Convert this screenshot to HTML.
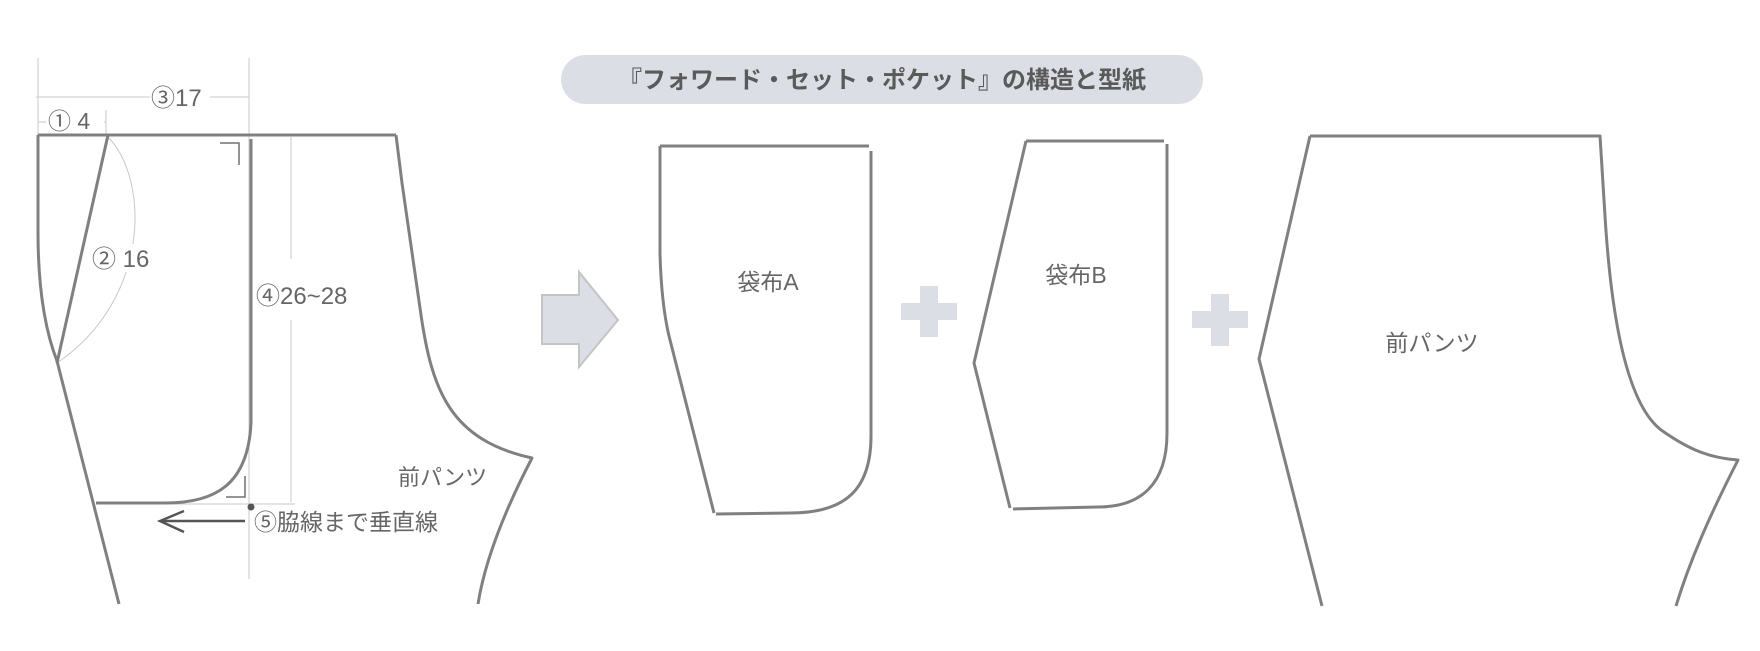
<!DOCTYPE html>
<html><head><meta charset="utf-8"><style>
html,body{margin:0;padding:0;background:#fff;}
svg{display:block;}
text{font-family:"Liberation Sans","Noto Sans CJK JP",sans-serif;fill:#666;}
</style></head><body>
<svg width="1760" height="651" viewBox="0 0 1760 651" xmlns="http://www.w3.org/2000/svg">
<g stroke="#c8c8c8" stroke-width="1" fill="none">
<line x1="38" y1="58" x2="38" y2="135"/>
<line x1="249" y1="58" x2="249" y2="579"/>
<line x1="36" y1="97" x2="249" y2="97"/>
<line x1="38" y1="122" x2="106" y2="122"/>
<line x1="106" y1="110" x2="106" y2="135"/>
<path d="M108,137 C150,180 150,300 57,363"/>
<line x1="291" y1="137" x2="291" y2="259"/>
<line x1="291" y1="320" x2="291" y2="502"/>
<line x1="96" y1="504" x2="295" y2="504"/>
</g>
<rect x="150" y="84" width="60" height="26" fill="#fff"/>
<rect x="46" y="110" width="58" height="24" fill="#fff"/>
<rect x="90" y="244" width="64" height="28" fill="#fff"/>
<text x="151" y="106" font-size="24">③17</text>
<text x="48" y="129" font-size="23">① 4</text>
<text x="92" y="267" font-size="24">② 16</text>
<g stroke="#808080" stroke-width="3" fill="none" stroke-linejoin="round">
<line x1="38" y1="135" x2="396" y2="135"/>
<path d="M38,135 L38,232 C38,290 45,330 57,361 L119,604"/>
<line x1="108" y1="135" x2="57" y2="363"/>
<path d="M251,139 L251,423 C248,485 215,503 165,503 L96,503"/>
<path d="M396,135 L402,183 L421,315 C432,390 450,440 532,458 C505,510 485,560 478,604"/>
<path d="M660,146 L869,146 M871,151 L871,436 C871,490 845,513 790,513 L716,514 M660,146 L660,254 C661,290 664,315 669,336 L714,513"/>
<path d="M1026,141 L1164,141 M1167,144 L1167,433 C1167,485 1140,507 1098,507 L1013,509 M1026,141 L974,363 L1010,508"/>
<path d="M1310,136 L1600,136 L1605,216 C1612,330 1630,410 1664,432 C1690,450 1710,458 1738,460 C1710,515 1690,560 1676,606 M1310,136 L1259,359 L1322,606"/>
</g>
<g stroke="#707070" stroke-width="1.5" fill="none">
<path d="M220,143 L239,143 L239,165"/>
<path d="M226,497 L245,497 L245,476"/>
</g>
<g stroke="#555" stroke-width="2.5" fill="none">
<line x1="245" y1="521" x2="160" y2="521"/>
<path d="M184,511 L160,521 L184,532"/>
</g>
<circle cx="251" cy="507" r="3.5" fill="#555"/>
<text x="256" y="304" font-size="24">④26~28</text>
<text x="254" y="530" font-size="23">⑤脇線まで垂直線</text>
<text x="398" y="485" font-size="22">前パンツ</text>
<rect x="561" y="55" width="642" height="49" rx="24.5" fill="#dcdee5"/>
<text x="882" y="88" font-size="24" font-weight="bold" text-anchor="middle" style="fill:#5a5a5a">『フォワード・セット・ポケット』の構造と型紙</text>
<polygon points="542,295 579,295 579,272 618,320 579,367 579,344 542,344" fill="#dcdee5" stroke="#c4c4c4" stroke-width="2"/>
<g fill="#dcdee5">
<rect x="901" y="303" width="56" height="17"/><rect x="920" y="286" width="18" height="51"/>
<rect x="1192" y="311" width="56" height="17"/><rect x="1211" y="294" width="18" height="52"/>
</g>
<text x="768" y="290" font-size="23" text-anchor="middle">袋布A</text>
<text x="1076" y="283" font-size="23" text-anchor="middle">袋布B</text>
<text x="1432" y="351" font-size="23" text-anchor="middle">前パンツ</text>
</svg>
</body></html>
